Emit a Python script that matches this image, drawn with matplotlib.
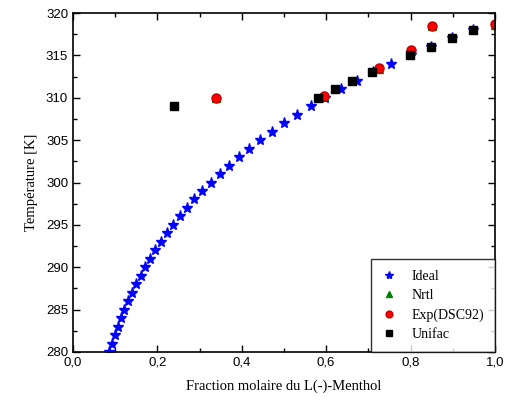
import matplotlib.pyplot as plt
import numpy as np

# Données
T_ideal = np.arange(280, 319)
x_ideal = [0.085, 0.092, 0.099, 0.106, 0.113, 0.121, 0.131, 0.139, 0.149, 0.160,
           0.171, 0.182, 0.195, 0.209, 0.223, 0.238, 0.254, 0.269, 0.287, 0.306,
           0.326, 0.348, 0.370, 0.393, 0.418, 0.444, 0.472, 0.501, 0.531, 0.563,
           0.597, 0.634, 0.672, 0.712, 0.754, 0.800, 0.848, 0.897, 0.947]

x_exp = [0.340, 0.596, 0.724, 0.800, 0.850, 1.000]
T_exp = [310.0, 310.25, 313.5, 315.6, 318.5, 318.65]

x_nrtl = [0.340, 0.596, 0.724, 0.800, 0.850, 1.000]
T_nrtl = [309.95, 310.2, 313.45, 315.55, 318.45, 318.6]

x_unifac = [0.240, 0.580, 0.621, 0.662, 0.709, 0.799, 0.848, 0.898, 0.947]
T_unifac = [309, 310, 311, 312, 313, 315, 316, 317, 318]

fig = plt.figure(figsize=(5.14, 4.0), dpi=100)
ax = fig.add_axes([0.142, 0.12, 0.821, 0.8475])

ax.plot(x_ideal, T_ideal, '*', color='blue', markersize=8, linestyle='none', label='Ideal')
ax.plot(x_nrtl, T_nrtl, '^', color='green', markersize=6, linestyle='none', label='Nrtl')
ax.plot(x_exp, T_exp, 'o', color='red', markeredgecolor='#c00000', markersize=6.5,
        linestyle='none', label='Exp(DSC92)')
ax.plot(x_unifac, T_unifac, 's', color='black', markersize=5.5, linestyle='none', label='Unifac')

ax.set_xlim(0, 1)
ax.set_ylim(280, 320)
ax.set_xticks(np.arange(0, 1.01, 0.2))
ax.set_xticks(np.arange(0.1, 1.0, 0.2), minor=True)
ax.set_yticks(np.arange(280, 321, 5))
ax.set_yticks(np.arange(282.5, 320, 5), minor=True)
ax.set_xticklabels(['0,0', '0,2', '0,4', '0,6', '0,8', '1,0'], family='Liberation Sans', fontsize=9.5)
ax.set_yticklabels([str(v) for v in range(280, 321, 5)], family='Liberation Sans', fontsize=9.5)
ax.tick_params(which='both', direction='in', top=True, right=True, width=1)
ax.tick_params(which='major', length=5)
ax.tick_params(which='minor', length=3)
for s in ax.spines.values():
    s.set_linewidth(1.2)

ax.set_xlabel('Fraction molaire du L(-)-Menthol', family='Liberation Serif', fontsize=10.5, labelpad=8)
ax.set_ylabel('Température [K]', family='Liberation Serif', fontsize=10.5, labelpad=6)

leg = ax.legend(loc='lower right', borderaxespad=0, fancybox=False, edgecolor='black',
                prop={'family': 'Liberation Serif', 'size': 10}, handlelength=1.0,
                handletextpad=1.1, borderpad=0.8, labelspacing=0.45, markerscale=0.75)
leg.get_frame().set_linewidth(1.0)

plt.savefig('out.png', dpi=100)
